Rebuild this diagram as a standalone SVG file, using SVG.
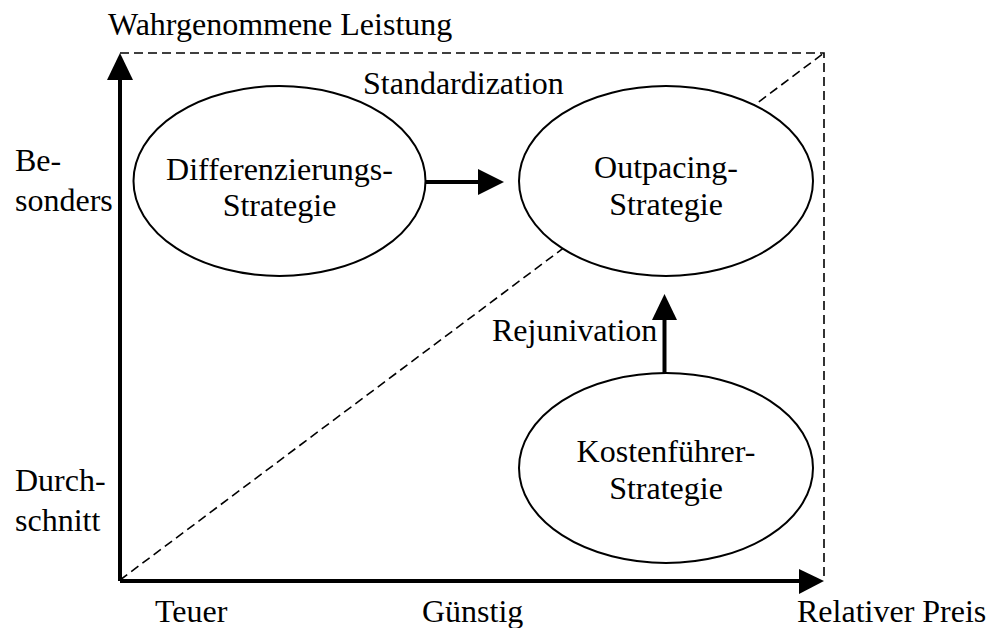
<svg xmlns="http://www.w3.org/2000/svg" width="987" height="628" viewBox="0 0 987 628">
  <style>
    text { font-family: "Liberation Serif", "Times New Roman", serif; font-size: 32px; fill: #000; }
    .mid { text-anchor: middle; }
    .node ellipse { fill: #fff; stroke: #000; stroke-width: 2; }
    .dash { fill: none; stroke: #000; stroke-width: 1.6; stroke-dasharray: 9 5; }
    .axis { fill: none; stroke: #000; stroke-width: 4; }
    .head { fill: #000; stroke: none; }
  </style>
  <rect width="987" height="628" fill="#fff"/>

  <!-- dashed frame and diagonal -->
  <g id="frame">
    <path class="dash" d="M120 53 H824 V580"/>
    <path class="dash" d="M120 580 L824 53"/>
  </g>

  <!-- strategy nodes -->
  <g id="differenzierung" class="node">
    <ellipse cx="279.5" cy="181" rx="146" ry="95"/>
    <text class="mid" x="279.5" y="180">Differenzierungs-</text>
    <text class="mid" x="279.5" y="216">Strategie</text>
  </g>
  <g id="outpacing" class="node">
    <ellipse cx="666" cy="181" rx="147" ry="95"/>
    <text class="mid" x="666" y="178">Outpacing-</text>
    <text class="mid" x="666" y="215">Strategie</text>
  </g>
  <g id="kostenfuehrer" class="node">
    <ellipse cx="666" cy="468" rx="147" ry="95"/>
    <text class="mid" x="666" y="462">Kostenführer-</text>
    <text class="mid" x="666" y="499">Strategie</text>
  </g>

  <!-- axes and transition arrows -->
  <g id="connectors">
    <path class="axis" d="M120 581 V76"/>
    <path class="head" d="M120 53 L133 80 L107 80 Z"/>
    <path class="axis" d="M120 581 H802"/>
    <path class="head" d="M824 581 L799 569 L799 594 Z"/>
    <path class="axis" d="M426 182 H481"/>
    <path class="head" d="M504 182 L478 169 L478 195 Z"/>
    <path class="axis" d="M664.5 373 V316"/>
    <path class="head" d="M664.5 294 L677 320 L652 320 Z"/>
  </g>

  <!-- axis and transition labels -->
  <g id="labels">
    <text x="108" y="35">Wahrgenommene Leistung</text>
    <text x="363" y="94">Standardization</text>
    <text x="492" y="341">Rejunivation</text>
    <text x="15" y="171">Be-</text>
    <text x="15" y="211">sonders</text>
    <text x="15" y="491">Durch-</text>
    <text x="15" y="531">schnitt</text>
    <text x="155" y="622">Teuer</text>
    <text x="422" y="622">Günstig</text>
    <text x="797" y="622">Relativer Preis</text>
  </g>
</svg>
